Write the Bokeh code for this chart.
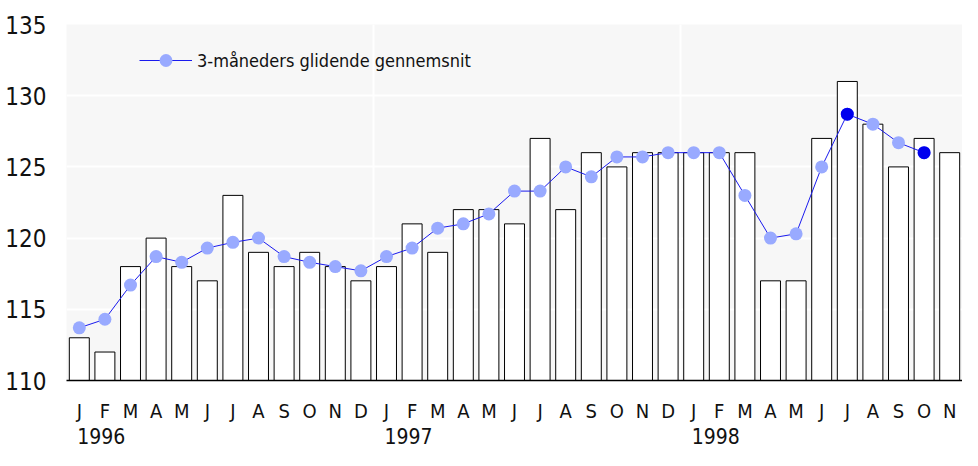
from bokeh.plotting import figure
from bokeh.models import (FixedTicker, LinearAxis, Legend, LegendItem)
from bokeh.embed import file_html
from bokeh.resources import INLINE

# ---- data ----
months = ["J", "F", "M", "A", "M", "J", "J", "A", "S", "O", "N", "D"]
years = ["1996", "1997", "1998"]
month_labels = months * 3

index_values = [113, 112, 118, 120, 118, 117, 123, 119, 118, 119, 118, 117,
                118, 121, 119, 122, 122, 121, 127, 122, 126, 125, 126, 126,
                126, 126, 126, 117, 117, 127, 131, 128, 125, 127, 126]

moving_avg = [113.7, 114.3, 116.7, 118.7, 118.3, 119.3, 119.7, 120.0, 118.7, 118.3, 118.0, 117.7,
              118.7, 119.3, 120.7, 121.0, 121.7, 123.3, 123.3, 125.0, 124.3, 125.7, 125.7, 126.0,
              126.0, 126.0, 123.0, 120.0, 120.3, 125.0, 128.7, 128.0, 126.7, 126.0]

highlight_months = [30, 33]  # Jul 98, Oct 98

legend_text = "3-måneders glidende gennemsnit"
y_ticks = [110, 115, 120, 125, 130, 135]

FONT = "Liberation Sans Narrow, DejaVu Sans Condensed, Roboto Condensed, Liberation Sans, sans-serif"

bar_x = list(range(len(index_values)))
avg_x = list(range(len(moving_avg)))
hl_x = highlight_months
hl_y = [moving_avg[i] for i in highlight_months]

p = figure(width=962, height=450, output_backend="svg", toolbar_location=None,
           x_range=(-0.5, 34.5), y_range=(110, 135),
           min_border_left=66, min_border_right=0, min_border_top=24,
           min_border_bottom=70)

p.background_fill_color = "#f7f7f7"
p.border_fill_color = "white"
p.outline_line_color = None

bars = p.vbar(x=bar_x, top=index_values, bottom=110, width=0.78,
              fill_color="white", line_color="black", line_width=1)

line = p.line(avg_x, moving_avg, line_color="#1a1aee", line_width=1)
dots = p.scatter(avg_x, moving_avg, size=13, fill_color="#99aaff",
                 line_color=None, marker="circle")
p.scatter(hl_x, hl_y, size=13, fill_color="#0000ee", line_color=None, marker="circle")

# grid
p.ygrid.ticker = FixedTicker(ticks=y_ticks)
p.ygrid.grid_line_color = "white"
p.ygrid.grid_line_width = 2
p.xgrid.ticker = FixedTicker(ticks=[-0.5, 11.5, 23.5])
p.xgrid.grid_line_color = "white"
p.xgrid.grid_line_width = 2

# y axis
p.yaxis.ticker = FixedTicker(ticks=y_ticks)
p.yaxis.axis_line_color = None
p.yaxis.major_tick_line_color = None
p.yaxis.minor_tick_line_color = None
p.yaxis.major_label_text_font = FONT
p.yaxis.major_label_text_font_size = "24px"
p.yaxis.major_label_text_color = "#111111"
p.yaxis.major_label_standoff = 14

# x axis (months)
p.xaxis.ticker = FixedTicker(ticks=list(range(len(month_labels))))
p.xaxis.major_label_overrides = {i: m for i, m in enumerate(month_labels)}
p.xaxis.axis_line_color = "black"
p.xaxis.axis_line_width = 1.5
p.xaxis.major_tick_line_color = None
p.xaxis.minor_tick_line_color = None
p.xaxis.major_label_text_font = FONT
p.xaxis.major_label_text_font_size = "20px"
p.xaxis.major_label_text_color = "#111111"
p.xaxis.major_label_standoff = 12

# second axis (years), label left edge near January's label
year_starts = [12 * k for k in range(len(years))]
year_ticks = [s + 0.86 for s in year_starts]
year_axis = LinearAxis(ticker=FixedTicker(ticks=year_ticks),
                       major_label_overrides={t: y for t, y in zip(year_ticks, years)},
                       axis_line_color=None, major_tick_line_color=None,
                       minor_tick_line_color=None,
                       major_label_text_font=FONT,
                       major_label_text_font_size="21px",
                       major_label_text_color="#111111",
                       major_label_standoff=-4)
p.add_layout(year_axis, "below")

legend = Legend(items=[LegendItem(label=legend_text, renderers=[line, dots])],
                location=(73, 304), glyph_width=53, glyph_height=32,
                label_standoff=5, padding=0, margin=0, spacing=0,
                background_fill_alpha=0, border_line_color=None,
                label_text_font=FONT, label_text_font_size="18px",
                label_text_color="#111111")
p.add_layout(legend)

open("out.html", "w").write(file_html(p, INLINE))
